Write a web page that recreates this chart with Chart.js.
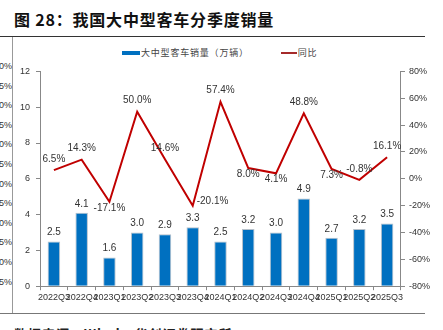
<!DOCTYPE html>
<html>
<head>
<meta charset="utf-8">
<script src="https://cdn.jsdelivr.net/npm/chart.js@4.4.1/dist/chart.umd.min.js"></script>
<style>
  html, body { margin: 0; padding: 0; background: #fff; }
  body { width: 443px; height: 330px; position: relative; overflow: hidden; font-family: "Liberation Sans", Arial, sans-serif; }
  #title { position: absolute; left: 14px; top: 7px; font-family: "Noto Sans CJK SC", sans-serif; font-weight: bold; font-size: 16px; letter-spacing: 0.8px; color: #111; white-space: nowrap; }
  #topRule { position: absolute; left: 0; top: 36px; width: 425px; height: 1px; background: #333; }
  #bottomRule { position: absolute; left: 0; top: 313px; width: 425px; height: 1px; background: #777; }
  #sideRule { position: absolute; left: 12px; top: 37px; width: 1px; height: 277px; background: #999; }
  #sideTicks { position: absolute; left: -30px; top: 57px; width: 42px; overflow: hidden; font-size: 9px; color: #333; text-align: right; }
  #sideTicks div { height: 19.6px; line-height: 19.6px; white-space: nowrap; }
  #legend { position: absolute; top: 45px; left: 122px; font-family: "Noto Sans CJK SC", sans-serif; font-size: 9px; letter-spacing: 0.8px; color: #444; white-space: nowrap; }
  #legend span { display: inline-block; vertical-align: middle; }
  .swBar { width: 18px; height: 4px; background: #0070C0; margin-right: 1px; }
  .swLine { width: 16px; height: 2px; background: #A52A2A; margin-left: 32px; margin-right: 1px; }
  #source { position: absolute; left: 14px; top: 324px; font-family: "Noto Sans CJK SC", sans-serif; font-size: 13px; font-weight: bold; letter-spacing: 1px; color: #222; white-space: nowrap; }
  #wrap { position: absolute; left: 14px; top: 60px; width: 420px; height: 245px; }
</style>
</head>
<body>
<div id="title">图 28：我国大中型客车分季度销量</div>
<div id="topRule"></div>
<div id="sideRule"></div>
<div id="bottomRule"></div>
<div id="sideTicks"></div>
<div id="legend"><span class="swBar"></span><span>大中型客车销量（万辆）</span><span class="swLine"></span><span>同比</span></div>
<div id="wrap"><canvas id="salesChart"></canvas></div>
<div id="source">数据来源：Wind，华创证券研究所</div>

<script>
// ----------------------------------------------------------------------
// Daten
// ----------------------------------------------------------------------
const quarters = ['2022Q3', '2022Q4', '2023Q1', '2023Q2', '2023Q3', '2023Q4', '2024Q1',
                  '2024Q2', '2024Q3', '2024Q4', '2025Q1', '2025Q2', '2025Q3'];
const sales = [2.5, 4.1, 1.6, 3.0, 2.9, 3.3, 2.5, 3.2, 3.0, 4.9, 2.7, 3.2, 3.5];   // 万辆
const yoy = [6.5, 14.3, -17.1, 50.0, 14.6, -20.1, 57.4, 8.0, 4.1, 48.8, 7.3, -0.8, 16.1]; // %
const sideTickLabels = ['40%', '35%', '30%', '25%', '20%', '15%', '10%', '5%', '0%', '-5%', '-10%', '-15%'];

// Lage der Prozent-Beschriftungen an der Linie
const yoyLabelPos = ['above', 'above', 'below', 'above', 'above', 'right', 'above',
                     'below', 'below', 'above', 'below', 'above', 'above'];

const barColor = '#0070C0';
const lineColor = '#C00000';
const axisColor = '#888';
const textColor = '#333';

// abgeschnittene Achse des Nachbardiagramms links
const side = document.getElementById('sideTicks');
sideTickLabels.forEach(t => {
  const d = document.createElement('div');
  d.textContent = t;
  side.appendChild(d);
});

// ----------------------------------------------------------------------
// Datenbeschriftungen für Balken und Linie
// ----------------------------------------------------------------------
const valueLabels = {
  id: 'valueLabels',
  afterDatasetsDraw(chart) {
    const ctx = chart.ctx;
    ctx.save();
    ctx.fillStyle = textColor;
    ctx.font = '10px "Liberation Sans", Arial, sans-serif';

    const barMeta = chart.getDatasetMeta(0);
    ctx.textAlign = 'center';
    ctx.textBaseline = 'bottom';
    barMeta.data.forEach((bar, i) => {
      ctx.fillText(sales[i].toFixed(1), bar.x, bar.y - 4);
    });

    const lineMeta = chart.getDatasetMeta(1);
    lineMeta.data.forEach((pt, i) => {
      const txt = yoy[i].toFixed(1) + '%';
      const pos = yoyLabelPos[i];
      if (pos === 'above') {
        ctx.textAlign = 'center';
        ctx.textBaseline = 'bottom';
        ctx.fillText(txt, pt.x, pt.y - 6);
      } else if (pos === 'below') {
        ctx.textAlign = 'center';
        ctx.textBaseline = 'top';
        ctx.fillText(txt, pt.x, pt.y + 1);
      } else {
        ctx.textAlign = 'left';
        ctx.textBaseline = 'middle';
        ctx.fillText(txt, pt.x + 4, pt.y - 5);
      }
    });
    ctx.restore();
  }
};

// ----------------------------------------------------------------------
// Diagramm
// ----------------------------------------------------------------------
const tickFont = { family: '"Liberation Sans", Arial, sans-serif', size: 9 };

new Chart(document.getElementById('salesChart').getContext('2d'), {
  type: 'bar',
  data: {
    labels: quarters,
    datasets: [
      {
        type: 'bar',
        label: '大中型客车销量（万辆）',
        data: sales,
        backgroundColor: barColor,
        borderColor: 'rgba(150,165,180,0.7)',
        borderWidth: 1,
        barPercentage: 0.45,
        categoryPercentage: 1,
        yAxisID: 'y',
        order: 2
      },
      {
        type: 'line',
        label: '同比',
        data: yoy,
        borderColor: lineColor,
        borderWidth: 2,
        pointRadius: 0,
        tension: 0,
        fill: false,
        yAxisID: 'y1',
        order: 1
      }
    ]
  },
  options: {
    responsive: true,
    maintainAspectRatio: false,
    animation: false,
    layout: { padding: { left: 0, right: 0, top: 10, bottom: 0 } },
    plugins: {
      legend: { display: false },
      tooltip: { enabled: false }
    },
    scales: {
      x: {
        offset: true,
        grid: { display: true, drawOnChartArea: false, offset: true, tickLength: 4, color: axisColor },
        border: { color: axisColor },
        ticks: { color: textColor, font: tickFont, maxRotation: 0, autoSkip: false, padding: 2 }
      },
      y: {
        position: 'left',
        min: 0,
        max: 12,
        grid: { drawOnChartArea: false, tickLength: 4, color: axisColor },
        border: { color: axisColor },
        ticks: { stepSize: 2, color: textColor, font: tickFont, padding: 6 }
      },
      y1: {
        position: 'right',
        min: -80,
        max: 80,
        grid: { drawOnChartArea: false, tickLength: 4, color: axisColor },
        border: { color: axisColor },
        ticks: { stepSize: 20, color: textColor, font: tickFont, padding: 4, callback: v => v + '%' }
      }
    }
  },
  plugins: [valueLabels]
});
</script>
</body>
</html>
